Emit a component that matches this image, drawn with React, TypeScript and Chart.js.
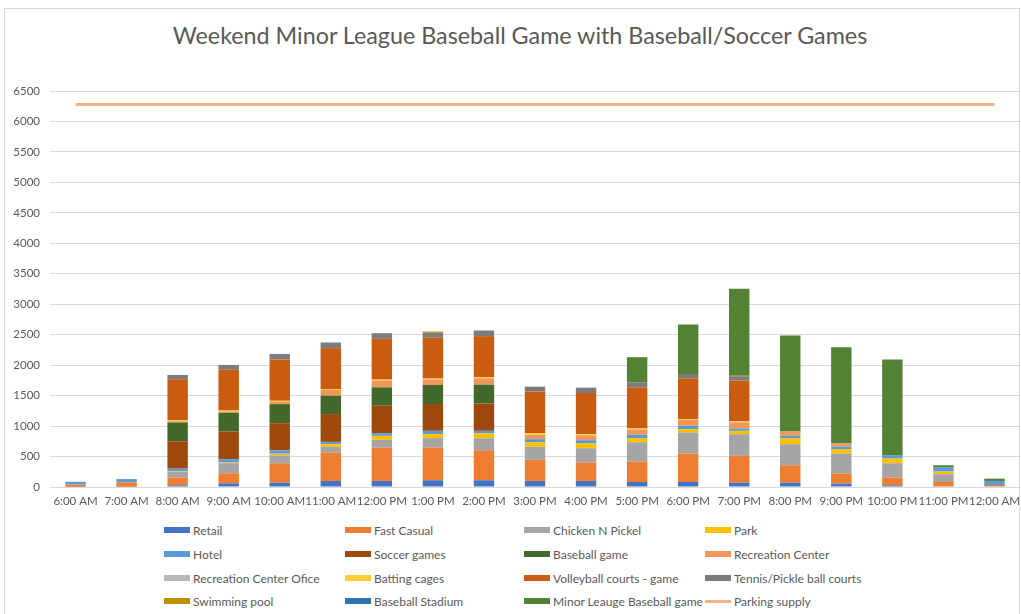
import { useEffect, useRef } from "react";
import { Chart, registerables } from "chart.js";

Chart.register(...registerables);

const TITLE = "Weekend Minor League Baseball Game with Baseball/Soccer Games";

const categories = [
  "6:00 AM", "7:00 AM", "8:00 AM", "9:00 AM", "10:00 AM", "11:00 AM", "12:00 PM",
  "1:00 PM", "2:00 PM", "3:00 PM", "4:00 PM", "5:00 PM", "6:00 PM", "7:00 PM",
  "8:00 PM", "9:00 PM", "10:00 PM", "11:00 PM", "12:00 AM",
];

const yTicks = [0, 500, 1000, 1500, 2000, 2500, 3000, 3500, 4000, 4500, 5000, 5500, 6000, 6500];

const retail = [5, 5, 27, 60, 71, 99, 99, 110, 110, 99, 99, 82, 82, 71, 71, 55, 27, 0, 0];
const fastCasual = [35, 70, 127, 165, 319, 466, 549, 538, 494, 346, 302, 335, 467, 440, 286, 165, 127, 82, 33];
const chickenNPickel = [0, 0, 93, 166, 130, 94, 126, 153, 197, 214, 236, 319, 346, 356, 346, 329, 236, 127, 0];
const park = [0, 0, 10, 10, 27, 44, 66, 66, 77, 77, 77, 66, 55, 55, 93, 71, 77, 44, 0];
const hotel = [45, 55, 44, 55, 55, 38, 44, 55, 44, 49, 55, 55, 55, 39, 44, 44, 55, 65, 66];
const soccerGames = [0, 0, 450, 455, 445, 456, 450, 440, 450, 0, 0, 0, 0, 0, 0, 0, 0, 0, 0];
const baseballGame = [0, 0, 308, 308, 313, 302, 302, 312, 308, 0, 0, 0, 0, 0, 0, 0, 0, 0, 0];
const recreationCenter = [0, 0, 20, 20, 40, 95, 110, 90, 105, 72, 80, 88, 95, 100, 71, 55, 0, 0, 0];
const recreationCenterOffice = [0, 0, 0, 0, 0, 0, 0, 0, 0, 0, 0, 0, 0, 0, 0, 0, 0, 0, 0];
const battingCages = [0, 0, 20, 15, 15, 15, 16, 16, 16, 27, 19, 17, 14, 15, 0, 0, 0, 0, 0];
const volleyballCourts = [0, 0, 670, 670, 676, 670, 670, 670, 675, 681, 675, 675, 670, 670, 0, 0, 0, 0, 0];
const tennisPickleCourts = [0, 0, 70, 80, 93, 93, 93, 83, 93, 82, 88, 82, 72, 72, 0, 0, 0, 0, 0];
const swimmingPool = [0, 0, 0, 0, 0, 0, 0, 20, 0, 0, 0, 0, 0, 10, 0, 0, 0, 0, 0];
const baseballStadium = [0, 0, 0, 0, 0, 0, 0, 0, 0, 0, 0, 0, 0, 0, 0, 0, 0, 0, 0];
const minorLeagueGame = [0, 0, 0, 0, 0, 0, 0, 0, 0, 0, 0, 412, 812, 1428, 1576, 1576, 1571, 39, 38];
const parkingSupply = [6280, 6280, 6280, 6280, 6280, 6280, 6280, 6280, 6280, 6280, 6280, 6280, 6280, 6280, 6280, 6280, 6280, 6280, 6280];

const barSeries: { label: string; data: number[]; color: string }[] = [
  { label: "Retail", data: retail, color: "#4472C4" },
  { label: "Fast Casual", data: fastCasual, color: "#ED7D31" },
  { label: "Chicken N Pickel", data: chickenNPickel, color: "#A5A5A5" },
  { label: "Park", data: park, color: "#FFC000" },
  { label: "Hotel", data: hotel, color: "#5B9BD5" },
  { label: "Soccer games", data: soccerGames, color: "#9E480E" },
  { label: "Baseball game", data: baseballGame, color: "#43682B" },
  { label: "Recreation Center", data: recreationCenter, color: "#F1975A" },
  { label: "Recreation Center Ofice", data: recreationCenterOffice, color: "#B7B7B7" },
  { label: "Batting cages", data: battingCages, color: "#FFCD33" },
  { label: "Volleyball courts - game", data: volleyballCourts, color: "#C95C11" },
  { label: "Tennis/Pickle ball courts", data: tennisPickleCourts, color: "#7C7C7C" },
  { label: "Swimming pool", data: swimmingPool, color: "#BF9000" },
  { label: "Baseball Stadium", data: baseballStadium, color: "#2E75B6" },
  { label: "Minor Leauge Baseball game", data: minorLeagueGame, color: "#548235" },
];

const lineSeries = { label: "Parking supply", data: parkingSupply, color: "#F4B183" };

const FONT = "Lato, 'Open Sans', sans-serif";
const TEXT = "#595959";

const legendColLeft = [164, 345, 524, 705];
const legendRowCenter = [530, 554, 578, 601];

export default function App() {
  const ref = useRef<HTMLCanvasElement | null>(null);

  useEffect(() => {
    document.body.style.margin = "0";
    const canvas = ref.current;
    if (!canvas) return;
    const chart = new Chart(canvas, {
      type: "bar",
      data: {
        labels: categories,
        datasets: [
          ...barSeries.map((s) => ({
            type: "bar" as const,
            label: s.label,
            data: s.data,
            backgroundColor: s.color,
            borderWidth: 0,
            barPercentage: 0.4,
            categoryPercentage: 1,
            stack: "demand",
            order: 2,
          })),
          {
            type: "line" as const,
            label: lineSeries.label,
            data: lineSeries.data,
            borderColor: lineSeries.color,
            backgroundColor: lineSeries.color,
            borderWidth: 3,
            pointRadius: 0,
            pointHoverRadius: 0,
            fill: false,
            stack: "parking",
            order: 1,
          } as any,
        ],
      },
      options: {
        responsive: false,
        animation: false,
        devicePixelRatio: 1,
        layout: { padding: { top: 91, left: 0, right: 1, bottom: 0 } },
        plugins: {
          legend: { display: false },
          title: { display: false },
          tooltip: { enabled: false },
        },
        scales: {
          x: {
            stacked: true,
            grid: { display: false, drawTicks: false },
            border: { display: false },
            ticks: {
              autoSkip: false,
              maxRotation: 0,
              minRotation: 0,
              padding: 7,
              color: TEXT,
              font: { family: FONT, size: 11.5 },
            },
            afterFit: (s: any) => {
              s.height = 28;
              s.paddingLeft = 0;
              s.paddingRight = 0;
            },
          },
          y: {
            stacked: true,
            min: 0,
            max: 6500,
            afterBuildTicks: (s: any) => {
              s.ticks = yTicks.map((v) => ({ value: v }));
            },
            grid: { color: "#D9D9D9", lineWidth: 1, drawTicks: false },
            border: { display: false },
            ticks: {
              padding: 10,
              color: TEXT,
              font: { family: FONT, size: 11.5 },
              callback: (v: any) => String(v),
            },
            afterFit: (s: any) => {
              s.width = 50;
              s.paddingTop = 0;
              s.paddingBottom = 0;
            },
          },
        },
      },
    });
    return () => chart.destroy();
  }, []);

  const legendItems = [
    ...barSeries.map((s) => ({ label: s.label, color: s.color, kind: "box" })),
    { label: lineSeries.label, color: lineSeries.color, kind: "line" },
  ];

  return (
    <div
      style={{
        position: "relative",
        width: 1021,
        height: 614,
        background: "#ffffff",
        overflow: "hidden",
        fontFamily: FONT,
      }}
    >
      <div
        style={{
          position: "absolute",
          left: 4,
          top: 8,
          width: 1016,
          height: 640,
          border: "1px solid #D9D9D9",
          boxSizing: "border-box",
        }}
      />
      <div
        style={{
          position: "absolute",
          left: 0,
          top: 19,
          width: 1040,
          textAlign: "center",
          fontSize: 23.3,
          lineHeight: "32px",
          color: TEXT,
          fontFamily: FONT,
        }}
      >
        {TITLE}
      </div>
      <canvas
        ref={ref}
        width={1021}
        height={515}
        style={{ position: "absolute", left: 0, top: 0, width: 1021, height: 515 }}
      />
      {legendItems.map((item, i) => {
        const col = i % 4;
        const row = Math.floor(i / 4);
        return (
          <div
            key={item.label}
            style={{
              position: "absolute",
              left: legendColLeft[col],
              top: legendRowCenter[row] - 10,
              height: 20,
              display: "flex",
              alignItems: "center",
              whiteSpace: "nowrap",
              fontSize: 12,
              color: TEXT,
            }}
          >
            <span
              style={{
                display: "inline-block",
                width: 26,
                height: item.kind === "line" ? 3 : 6,
                background: item.color,
                marginRight: 3,
              }}
            />
            <span>{item.label}</span>
          </div>
        );
      })}
    </div>
  );
}
